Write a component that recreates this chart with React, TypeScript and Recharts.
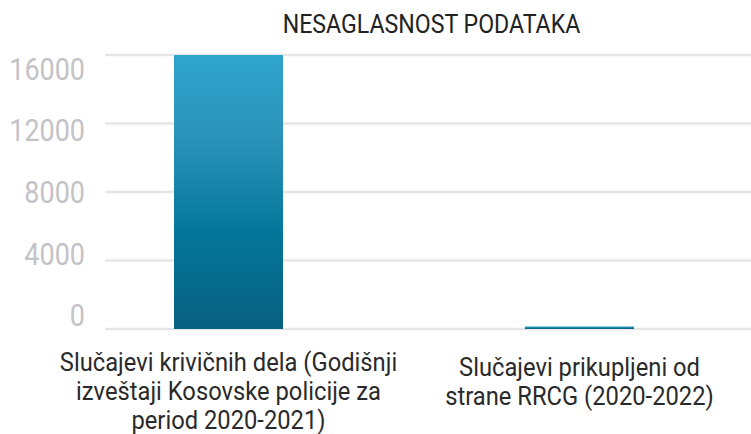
import React from 'react';
import { BarChart, Bar, XAxis, YAxis, CartesianGrid } from 'recharts';

const title = 'NESAGLASNOST PODATAKA';
const categories = [
  'Slučajevi krivičnih dela (Godišnji izveštaji Kosovske policije za period 2020-2021)',
  'Slučajevi prikupljeni od strane RRCG (2020-2022)',
];
const categoryLines = [
  ['Slučajevi krivičnih dela (Godišnji', 'izveštaji Kosovske policije za', 'period 2020-2021)'],
  ['Slučajevi prikupljeni od', 'strane RRCG (2020-2022)'],
];
const caseCounts = [16000, 150];
const yTicks = [0, 4000, 8000, 12000, 16000];

const data = categories.map((name, i) => ({ name, value: caseCounts[i] }));

const W = 755;
const H = 434;
const PLOT_TOP = 55;
const PLOT_BOTTOM = 329;
const PLOT_LEFT = 53;
const GRID_LEFT = 105;
const Y_LABEL_RIGHT = 85;
const FONT = 'Roboto, "Noto Sans", sans-serif';
const SQUEEZE = 0.87;

const YTick = (props: any) => {
  const { y, payload } = props;
  const mid = (PLOT_TOP + PLOT_BOTTOM) / 2;
  const center = mid + (y - mid) * 0.898;
  return (
    <text
      transform={`translate(${Y_LABEL_RIGHT},${center + 11}) scale(${SQUEEZE},1)`}
      textAnchor="end"
      fontFamily={FONT}
      fontSize={31}
      fill="#c3c3c7"
    >
      {payload.value}
    </text>
  );
};

const XTick = (props: any) => {
  const { x, payload, index } = props;
  const idx = typeof index === 'number' ? index : categories.indexOf(payload.value);
  const lines = categoryLines[idx] || [String(payload.value)];
  const first = PLOT_BOTTOM + 42 + (3 - lines.length) * 5;
  return (
    <g>
      {lines.map((ln, i) => (
        <text
          key={i}
          transform={`translate(${x},${first + i * 29}) scale(0.95,1)`}
          textAnchor="middle"
          fontFamily={FONT}
          fontSize={25}
          fill="#2a2a2a"
        >
          {ln}
        </text>
      ))}
    </g>
  );
};

const GridLine = (props: any) => {
  const { y1, y2, x2 } = props;
  return <line x1={GRID_LEFT} x2={x2} y1={y1} y2={y2} stroke="#e6e6e6" strokeWidth={2.5} />;
};

export default function App() {
  return (
    <div style={{ position: 'absolute', left: 0, top: 0, width: 751, height: H, overflow: 'hidden', background: '#fff' }}>
      <BarChart
        width={W}
        height={H}
        data={data}
        margin={{ top: PLOT_TOP, right: 0, left: 0, bottom: 0 }}
        barSize={109}
      >
        <defs>
          <linearGradient id="barGrad" x1="0" y1="0" x2="0" y2="1">
            <stop offset="0%" stopColor="#2fa4cd" />
            <stop offset="30%" stopColor="#2b93b9" />
            <stop offset="65%" stopColor="#04769a" />
            <stop offset="100%" stopColor="#08607f" />
          </linearGradient>
        </defs>
        <CartesianGrid vertical={false} horizontal={GridLine} />
        <YAxis
          width={PLOT_LEFT}
          domain={[0, 16000]}
          ticks={yTicks}
          axisLine={false}
          tickLine={false}
          tick={YTick}
          interval={0}
        />
        <XAxis
          dataKey="name"
          height={H - PLOT_BOTTOM}
          axisLine={false}
          tickLine={false}
          tick={XTick}
          interval={0}
        />
        <Bar dataKey="value" fill="url(#barGrad)" isAnimationActive={false} />
      </BarChart>
      <svg
        width={751}
        height={50}
        style={{ position: 'absolute', left: 0, top: 0, pointerEvents: 'none' }}
      >
        <text
          transform={`translate(431.5,33) scale(0.89,1)`}
          textAnchor="middle"
          fontFamily={FONT}
          fontSize={26}
          fill="#222"
        >
          {title}
        </text>
      </svg>
    </div>
  );
}
